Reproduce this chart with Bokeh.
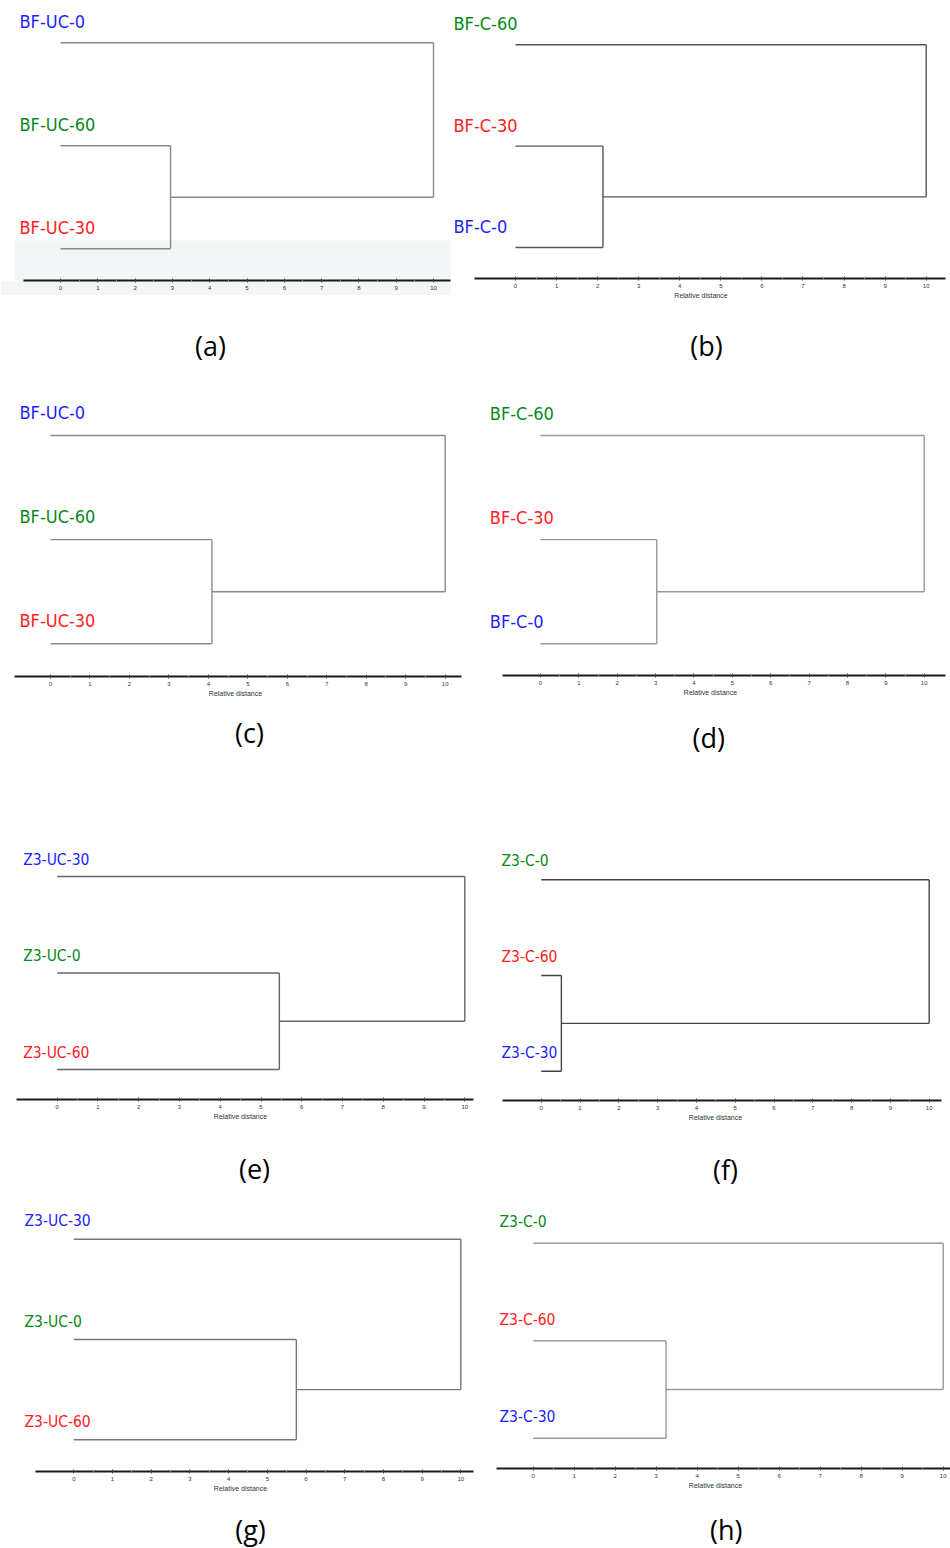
from bokeh.plotting import figure
from bokeh.layouts import column, row
from bokeh.models import Range1d, FixedTicker, ColumnDataSource, LabelSet, Label, BoxAnnotation
from bokeh.core.properties import value
from bokeh.embed import file_html
from bokeh.resources import INLINE

# ---------------- data ----------------
ticks = [0, 1, 2, 3, 4, 5, 6, 7, 8, 9, 10]
axis_title = "Relative distance"

labels_a = ["BF-UC-0", "BF-UC-60", "BF-UC-30"]
merge_a = [2.95, 10.0]          # [join of the two lower leaves, root join]
labels_b = ["BF-C-60", "BF-C-30", "BF-C-0"]
merge_b = [2.13, 10.0]
labels_c = ["BF-UC-0", "BF-UC-60", "BF-UC-30"]
merge_c = [4.09, 10.0]
labels_d = ["BF-C-60", "BF-C-30", "BF-C-0"]
merge_d = [3.03, 10.0]
labels_e = ["Z3-UC-30", "Z3-UC-0", "Z3-UC-60"]
merge_e = [5.45, 10.0]
labels_f = ["Z3-C-0", "Z3-C-60", "Z3-C-30"]
merge_f = [0.52, 10.0]
labels_g = ["Z3-UC-30", "Z3-UC-0", "Z3-UC-60"]
merge_g = [5.75, 10.0]
labels_h = ["Z3-C-0", "Z3-C-60", "Z3-C-30"]
merge_h = [3.24, 10.0]

captions = ["(a)", "(b)", "(c)", "(d)", "(e)", "(f)", "(g)", "(h)"]

# ---------------- styles / layout ----------------
B, G, R = "#1e1eff", "#08891a", "#ff2020"
BAND = "#f2f6f6"
LABEL_FONT = "DejaVu Sans Condensed"
TICK_FONT = "Liberation Sans"
CAP_FONT = "Open Sans"

PANELS = [
    dict(labels=labels_a, merges=merge_a, colors=[B, G, R], x0=0, w=451, y0=0, h=385,
         zero=60, ten=433, axl=23, axr=450, ptop=42.3, pbot=248.3, axis_y=280,
         lab_x=19, lab_dy=21, cap=(210, 345), font=18, xlabel=False, line="#8a8a8a", band=240),
    dict(labels=labels_b, merges=merge_b, colors=[G, R, B], x0=451, w=499, y0=0, h=385,
         zero=515, ten=925.7, axl=474, axr=945, ptop=44.3, pbot=247, axis_y=277.7,
         lab_x=453, lab_dy=21, cap=(706, 345), font=18, xlabel=True, line="#555555", band=None),
    dict(labels=labels_c, merges=merge_c, colors=[B, G, R], x0=0, w=470, y0=385, h=415,
         zero=50, ten=444.7, axl=14, axr=460.7, ptop=435, pbot=643.3, axis_y=675.7,
         lab_x=19, lab_dy=23, cap=(249, 731.7), font=18, xlabel=True, line="#8a8a8a", band=None),
    dict(labels=labels_d, merges=merge_d, colors=[G, R, B], x0=470, w=480, y0=385, h=415,
         zero=540, ten=923.7, axl=501.7, axr=945, ptop=435, pbot=643.3, axis_y=675.3,
         lab_x=489.3, lab_dy=22, cap=(708.3, 736.7), font=18, xlabel=True, line="#999999", band=None),
    dict(labels=labels_e, merges=merge_e, colors=[B, G, R], x0=0, w=480, y0=800, h=395,
         zero=56.7, ten=464.3, axl=16, axr=473.3, ptop=876, pbot=1069, axis_y=1098.7,
         lab_x=22.7, lab_dy=17, cap=(254, 1167.5), font=15.5, xlabel=True, line="#666666", band=None),
    dict(labels=labels_f, merges=merge_f, colors=[G, R, B], x0=480, w=470, y0=800, h=395,
         zero=540.7, ten=928.7, axl=501.7, axr=940.7, ptop=879.3, pbot=1070.7, axis_y=1100,
         lab_x=501, lab_dy=18.5, cap=(725, 1169), font=15.5, xlabel=True, line="#444444", band=None),
    dict(labels=labels_g, merges=merge_g, colors=[B, G, R], x0=0, w=480, y0=1195, h=353,
         zero=73.3, ten=460.3, axl=35, axr=473.3, ptop=1238.7, pbot=1439.3, axis_y=1470.7,
         lab_x=24, lab_dy=18, cap=(250, 1529), font=15.5, xlabel=True, line="#777777", band=None),
    dict(labels=labels_h, merges=merge_h, colors=[G, R, B], x0=480, w=470, y0=1195, h=353,
         zero=532.7, ten=942.7, axl=496, axr=950, ptop=1242.7, pbot=1437.7, axis_y=1467.7,
         lab_x=499, lab_dy=21, cap=(725.7, 1529), font=15.5, xlabel=True, line="#999999", band=None),
]


def dendro_segments(merges):
    m, r = merges
    x0 = [0, 0, 0, m, m, r]
    y0 = [0, 1, 2, 1, 1.5, 0]
    x1 = [r, m, m, m, r, r]
    y1 = [0, 1, 2, 2, 1.5, 1.5]
    return dict(x0=x0, y0=y0, x1=x1, y1=y1)


def make_panel(P, caption):
    mbb = 28 if P["xlabel"] else 15
    frame_h = round(P["axis_y"] - P["y0"])
    tree_h = frame_h + mbb
    fl = P["x0"]
    fr = P["x0"] + P["w"]
    ft = P["y0"]
    fb = P["y0"] + frame_h
    u = (P["ten"] - P["zero"]) / 10.0
    s = (P["pbot"] - P["ptop"]) / 2.0

    def xd(px):
        return (px - P["zero"]) / u

    def yd(py):
        return (py - P["ptop"]) / s

    p = figure(width=P["w"], height=tree_h, output_backend="svg", toolbar_location=None,
               x_range=Range1d(xd(fl), xd(fr)), y_range=Range1d(yd(fb), yd(ft)),
               x_axis_location="below", y_axis_location=None,
               min_border_left=0, min_border_right=0, min_border_top=0,
               min_border_bottom=mbb)
    p.outline_line_color = None
    p.grid.visible = False
    p.background_fill_color = "white"
    p.border_fill_color = "white"

    if P["band"] is not None:
        p.border_fill_color = BAND
        p.add_layout(BoxAnnotation(top=yd(P["band"]), left=xd(14), right=xd(450),
                                   fill_color=BAND, fill_alpha=1.0,
                                   line_alpha=0, level="underlay"))

    seg = ColumnDataSource(dendro_segments(P["merges"]))
    p.segment("x0", "y0", "x1", "y1", source=seg, line_color=P["line"], line_width=1.4)

    lab = ColumnDataSource(dict(
        x=[xd(P["lab_x"])] * 3,
        y=[i - P["lab_dy"] / s for i in range(3)],
        text=P["labels"],
        color=P["colors"],
    ))
    p.add_layout(LabelSet(x="x", y="y", text="text", source=lab, text_color="color",
                          text_font=value(LABEL_FONT), text_font_size=value(f"{P['font']}px"),
                          text_align="left", text_baseline="middle"))

    ax = p.xaxis[0]
    ax.bounds = (xd(P["axl"]), xd(P["axr"]))
    ax.ticker = FixedTicker(ticks=ticks, minor_ticks=[t + 0.5 for t in ticks[:-1]])
    ax.axis_line_color = "#1a1a1a"
    ax.axis_line_width = 2
    ax.major_tick_line_color = "#444444"
    ax.major_tick_in = 2
    ax.major_tick_out = 2
    ax.minor_tick_line_color = "#888888"
    ax.minor_tick_in = 1
    ax.minor_tick_out = 1
    ax.major_label_text_font = TICK_FONT
    ax.major_label_text_font_size = "6px"
    ax.major_label_text_color = "#333333"
    ax.major_label_standoff = 3
    if P["xlabel"]:
        ax.axis_label = axis_title
        ax.axis_label_text_font = TICK_FONT
        ax.axis_label_text_font_size = "7px"
        ax.axis_label_text_font_style = "normal"
        ax.axis_label_text_color = "#333333"
        ax.axis_label_standoff = 1

    # caption strip below the tree
    cap_top = P["y0"] + tree_h
    cap_h = P["h"] - tree_h
    q = figure(width=P["w"], height=cap_h, output_backend="svg", toolbar_location=None,
               x_range=Range1d(P["x0"], P["x0"] + P["w"]),
               y_range=Range1d(cap_top + cap_h, cap_top),
               x_axis_location=None, y_axis_location=None,
               min_border_left=0, min_border_right=0, min_border_top=0, min_border_bottom=0)
    q.outline_line_color = None
    q.grid.visible = False
    q.background_fill_color = "white"
    q.border_fill_color = "white"
    cx, cy = P["cap"]
    q.add_layout(Label(x=cx, y=cy, text=caption, text_font=CAP_FONT, text_font_size="27px",
                       text_color="black", text_align="center", text_baseline="middle"))
    return column(p, q, spacing=0)


cells = [make_panel(P, c) for P, c in zip(PANELS, captions)]
layout = column(row(cells[0], cells[1]), row(cells[2], cells[3]),
                row(cells[4], cells[5]), row(cells[6], cells[7]))

open("out.html", "w").write(file_html(layout, INLINE))
